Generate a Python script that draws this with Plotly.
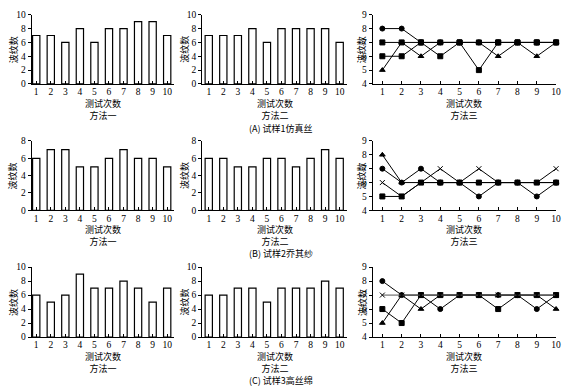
import plotly.graph_objects as go

W, H = 571, 392
trials = list(range(1, 11))
tick_labels = [str(i) for i in trials]

# Sample A (仿真丝)
a_m1 = [7, 7, 6, 8, 6, 8, 8, 9, 9, 7]
a_m2 = [7, 7, 7, 8, 6, 8, 8, 8, 8, 6]
a_m3_s1 = [8, 8, 7, 7, 7, 7, 7, 7, 7, 7]
a_m3_s2 = [6, 6, 7, 6, 7, 5, 7, 7, 7, 7]
a_m3_s3 = [5, 7, 6, 7, 7, 7, 6, 7, 6, 7]
a_m3_s4 = [7, 7, 7, 7, 7, 7, 7, 7, 7, 7]

# Sample B (乔其纱)
b_m1 = [6, 7, 7, 5, 5, 6, 7, 6, 6, 5]
b_m2 = [6, 6, 5, 5, 6, 6, 5, 6, 7, 6]
b_m3_s1 = [8, 6, 6, 6, 6, 6, 6, 6, 6, 6]
b_m3_s2 = [7, 6, 7, 6, 6, 5, 6, 6, 5, 6]
b_m3_s3 = [6, 5, 6, 7, 6, 7, 6, 6, 6, 7]
b_m3_s4 = [5, 5, 6, 6, 6, 6, 6, 6, 6, 6]

# Sample C (高丝绵)
c_m1 = [6, 5, 6, 9, 7, 7, 8, 7, 5, 7]
c_m2 = [6, 6, 7, 7, 5, 7, 7, 7, 8, 7]
c_m3_s1 = [8, 7, 7, 6, 7, 7, 7, 7, 6, 7]
c_m3_s2 = [6, 5, 7, 7, 7, 7, 6, 7, 7, 7]
c_m3_s3 = [5, 7, 6, 7, 7, 7, 7, 7, 7, 6]
c_m3_s4 = [7, 7, 7, 7, 7, 7, 7, 7, 7, 7]

captions = ["(A) 试样1仿真丝", "(B) 试样2乔其纱", "(C) 试样3高丝绵"]
method_names = ["方法一", "方法二", "方法三"]
x_title = "测试次数"
y_title = "波纹数"

FONT = "Liberation Serif, Noto Sans CJK SC, serif"
CJK = "Noto Sans CJK SC, sans-serif"

# pixel layout (page coordinates)
col_px = [(32, 176), (204, 350), (376, 561)]
row_px = [(10, 81), (139.5, 210.7), (269, 340.7)]
ytitle_px = [13, 186, 365]
caption_py = [127, 255, 385]
bar_ranges = [[0, 10], [0, 8], [0, 10]]
line_range = [4, 9]

def px2x(p):
    return p / W

def py2y(p):
    return 1 - p / H

fig = go.Figure()
layout = dict(width=W, height=H, margin=dict(l=0, r=0, t=0, b=0), autosize=False,
              paper_bgcolor="white", plot_bgcolor="white", showlegend=False,
              font=dict(family=FONT, size=10, color="black"))
annotations = []

bars = [[a_m1, a_m2], [b_m1, b_m2], [c_m1, c_m2]]
lines = [
    [(a_m3_s1, "circle"), (a_m3_s2, "square"), (a_m3_s3, "triangle-up"), (a_m3_s4, "square")],
    [(b_m3_s1, "triangle-up"), (b_m3_s2, "circle"), (b_m3_s3, "x-thin-open"), (b_m3_s4, "square")],
    [(c_m3_s1, "circle"), (c_m3_s2, "square"), (c_m3_s3, "triangle-up"), (c_m3_s4, "x-thin-open")],
]

idx = 0
for r in range(3):
    for c in range(3):
        idx += 1
        xa = "x" if idx == 1 else f"x{idx}"
        ya = "y" if idx == 1 else f"y{idx}"
        xk = "xaxis" if idx == 1 else f"xaxis{idx}"
        yk = "yaxis" if idx == 1 else f"yaxis{idx}"
        x0, x1 = col_px[c]
        y0, y1 = row_px[r]
        if c < 2:
            fig.add_trace(go.Bar(x=trials, y=bars[r][c], xaxis=xa, yaxis=ya,
                                 marker=dict(color="white", line=dict(color="black", width=1.2)),
                                 width=0.5))
            xr = [0.69, 10.5] if c == 0 else [0.55, 10.5]
            yr = bar_ranges[r]
            dt = 2
        else:
            for vals, sym in lines[r]:
                is_flat = len(set(vals)) == 1
                fig.add_trace(go.Scatter(x=trials, y=vals, xaxis=xa, yaxis=ya, mode="lines+markers",
                                         cliponaxis=False,
                                         line=dict(color="#555" if (is_flat and r == 2) else "black", width=1),
                                         marker=dict(symbol=sym, size=5, color="black",
                                                     line=dict(color="black", width=1))))
            xr = [0.5, 10]
            yr = line_range
            dt = 1
        layout[xk] = dict(domain=[px2x(x0), px2x(x1)], range=xr, anchor=ya,
                          tickmode="array", tickvals=trials, ticktext=tick_labels,
                          ticks="inside", ticklen=3, tickcolor="black", ticklabelstandoff=-1,
                          showline=True, linecolor="black", linewidth=1,
                          showgrid=False, zeroline=False, fixedrange=True,
                          tickfont=dict(family=FONT, size=9.5, color="black"))
        layout[yk] = dict(domain=[py2y(y1), py2y(y0)], range=yr, anchor=xa,
                          dtick=dt, tick0=0, ticks="outside", ticklen=3, tickcolor="black",
                          showline=True, linecolor="black", linewidth=1,
                          showgrid=False, zeroline=False, fixedrange=True,
                          tickfont=dict(family=FONT, size=9.5, color="black"))
        cx = px2x((x0 + x1) / 2)
        annotations.append(dict(text=x_title + "<br>" + method_names[c], x=cx, y=py2y(y1 + 26),
                                xref="paper", yref="paper", showarrow=False, borderpad=0,
                                font=dict(family=CJK, size=9, color="black"),
                                xanchor="center", yanchor="middle"))
        annotations.append(dict(text=y_title, x=px2x(ytitle_px[c]), y=py2y((y0 + y1) / 2),
                                xref="paper", yref="paper", textangle=-90, showarrow=False, borderpad=0,
                                font=dict(family=CJK, size=9, color="black"),
                                xanchor="center", yanchor="middle"))
    annotations.append(dict(text=captions[r], x=px2x(283), y=py2y(caption_py[r]), xref="paper", yref="paper",
                            showarrow=False, borderpad=0, font=dict(family=CJK, size=9, color="black"),
                            xanchor="center", yanchor="middle"))

layout["annotations"] = annotations
fig.update_layout(**layout)
fig.write_html("out.html", config={"displayModeBar": False},
               post_script="document.body.style.margin='0';document.body.style.overflow='hidden';")
